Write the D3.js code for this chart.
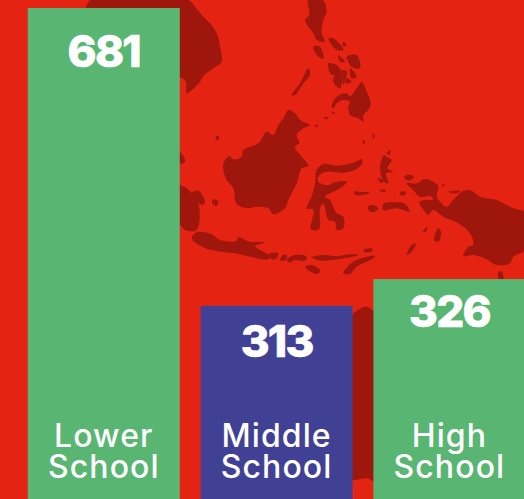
<!DOCTYPE html>
<head>
  <meta charset="utf-8">
  <title>School counts</title>
  <script src="https://cdn.jsdelivr.net/npm/d3@7"></script>
</head>

<style>
  html, body {
    margin: 0;
    padding: 0;
    background: #e52313;
    overflow: hidden;
  }

  svg {
    display: block;
  }

  .land {
    fill: #9e160c;
    stroke: none;
  }

  .value {
    font-family: Inter, "Open Sans", sans-serif;
    font-weight: 800;
    font-size: 44px;
    letter-spacing: -1.8px;
    stroke: white;
    stroke-width: 0.6px;
    fill: white;
    text-anchor: middle;
  }

  .label {
    font-family: Inter, "Open Sans", sans-serif;
    font-weight: 500;
    font-size: 32px;
    letter-spacing: 1.1px;
    fill: white;
    text-anchor: middle;
  }
</style>

<body>
  <svg id='svg-chart'></svg>
</body>

<script>

var categories = [['Lower', 'School'], ['Middle', 'School'], ['High', 'School']];
var values = [681, 313, 326];
// bar lengths as drawn: the middle bar is shorter than its printed number says
var drawn_values = [681, 291, 326];
var bar_colours = ['#59b572', '#404194', '#59b572'];

// background map, traced in map units
var sumatra = [[-100,520],[0,555],[20,565],[55,610],[50,690],[15,690],[0,675],[-100,640]];
var sumatra_n = [[-30,440],[0,455],[15,485],[-30,490]];
var indochina = [[-270,0],[25,0],[45,20],[70,50],[90,70],[110,100],[122,150],[125,185],[100,205],[70,228],[60,245],[30,275],[20,280],[17,245],[0,230],[-60,200],[-270,100]];
var borneo = [[130,490],[148,468],[160,478],[185,470],[190,450],[235,430],[260,395],[280,405],[295,375],[310,355],[325,330],[345,340],[360,360],[390,375],[370,385],[350,405],[358,430],[345,440],[365,470],[385,497],[365,505],[352,545],[335,580],[325,600],[315,625],[280,643],[265,625],[230,620],[205,625],[170,612],[160,565],[140,540],[130,510]];
var sulawesi = [[410,510],[430,492],[470,497],[520,488],[545,478],[547,490],[525,510],[490,518],[440,515],[418,525],[415,545],[440,555],[470,545],[500,545],[480,565],[450,580],[435,590],[450,600],[470,640],[490,650],[490,685],[470,690],[465,665],[445,660],[430,610],[420,625],[417,688],[393,688],[400,630],[380,625],[395,590],[405,550]];
var java = [[35,715],[50,697],[95,703],[120,720],[170,722],[175,712],[210,725],[255,728],[225,738],[240,750],[265,765],[265,778],[210,770],[165,760],[105,752],[65,740]];
var luzon = [[385,0],[428,0],[440,35],[430,60],[425,100],[435,125],[410,120],[400,100],[375,60],[388,45]];
var mindanao = [[455,320],[470,290],[500,280],[510,290],[530,265],[545,245],[562,280],[572,310],[565,330],[550,345],[550,365],[535,355],[510,345],[505,320],[510,305],[490,300],[470,310],[460,325]];
var palawan = [[335,285],[360,250],[385,205],[390,225],[370,250],[345,285]];
var halmahera = [[602,490],[612,465],[620,470],[635,480],[622,505],[638,515],[618,520],[625,550],[612,545],[600,510]];
var new_guinea = [[680,550],[710,550],[735,537],[760,545],[775,560],[770,590],[780,605],[800,620],[820,600],[850,572],[875,572],[900,590],[950,600],[1000,625],[1040,640],[1040,745],[1000,770],[990,790],[950,795],[915,775],[880,765],[850,768],[865,740],[880,735],[870,700],[835,670],[790,650],[760,630],[745,645],[735,635],[718,605],[760,598],[755,590],[720,590],[700,570]];
var australia = [[500,960],[516,945],[525,935],[535,930],[548,922],[560,920],[570,925],[585,935],[700,935],[700,1460],[585,1446],[562,1435],[500,1435]];
var cape_york = [[955,815],[965,815],[970,840],[958,840]];
var small_islands = [
  [[265,762],[295,760],[285,778],[270,775]],
  [[300,780],[310,764],[322,768],[315,782]],
  [[320,780],[345,765],[380,770],[375,782],[345,780],[330,788]],
  [[395,772],[430,765],[470,768],[520,762],[535,765],[470,778],[420,782]],
  [[490,820],[520,785],[585,767],[580,775],[530,800],[510,822]],
  [[375,800],[395,795],[420,812],[410,822]],
  [[35,580],[55,572],[75,605],[65,615]],
  [[95,605],[105,598],[115,605],[108,618]],
  [[107,410],[116,408],[116,420],[109,420]],
  [[400,140],[420,140],[430,175],[415,170]],
  [[445,115],[460,115],[490,150],[470,150]],
  [[490,125],[500,135],[490,140]],
  [[500,170],[530,165],[540,205],[515,200],[505,185]],
  [[445,190],[470,195],[480,210],[455,225]],
  [[475,165],[495,185],[480,185]],
  [[470,215],[485,210],[480,265],[460,245]],
  [[490,210],[500,215],[490,255]],
  [[510,205],[530,230],[515,235]],
  [[500,235],[515,245],[497,250]],
  [[430,352],[445,352],[440,358]],
  [[455,335],[465,338],[458,342]],
  [[405,375],[415,375],[408,382]],
  [[578,400],[584,405],[580,418]],
  [[548,420],[555,425],[550,432]],
  [[620,460],[632,450],[628,465]],
  [[592,535],[610,540],[605,550]],
  [[672,530],[695,525],[702,532],[685,542]],
  [[610,612],[650,607],[675,612],[688,635],[650,625],[610,630]],
  [[563,620],[578,615],[595,625],[585,635],[570,635]],
  [[522,575],[540,575],[570,578],[548,585],[525,584]],
  [[598,570],[618,570],[612,577]],
  [[660,577],[678,575],[675,585],[660,585]],
  [[762,720],[775,685],[783,695],[775,725]],
  [[728,695],[742,680],[738,695]],
  [[680,765],[695,735],[708,732],[695,755]],
  [[805,575],[840,572],[830,580]],
  [[550,750],[575,745],[578,752],[555,757]],
  [[785,555],[795,553],[790,560]]
];

var land = [sumatra, sumatra_n, indochina, borneo, sulawesi, java, luzon, mindanao, palawan,
            halmahera, new_guinea, australia, cape_york].concat(small_islands);

var width = 524,
    height = 499,
    value_dy = [59, 51, 48],
    label_y = [447, 478];

var svg = d3.select('#svg-chart')
  .attr('width', width)
  .attr('height', height);

// map
var map_x = d3.scaleLinear().domain([0, 1032]).range([180, 524]);
var map_y = d3.scaleLinear().domain([0, 870]).range([0, 290]);

var land_line = d3.line()
  .x(function(d) { return map_x(d[0]); })
  .y(function(d) { return map_y(d[1]); })
  .curve(d3.curveCatmullRomClosed.alpha(0.5));

svg.selectAll('path.land')
  .data(land)
  .enter()
  .append('path')
  .attr('class', 'land')
  .attr('d', land_line);

// bars
var x = d3.scaleBand()
  .domain(d3.range(categories.length))
  .range([27.8, 525.4])
  .paddingInner(0.1204);

var y = d3.scaleLinear().domain([0, 681]).range([528, 8]);

var bar_g = svg.selectAll('g.bar')
  .data(values)
  .enter()
  .append('g')
  .attr('class', 'bar');

bar_g.append('rect')
  .attr('x', function(_, i) { return x(i); })
  .attr('y', function(_, i) { return y(drawn_values[i]); })
  .attr('width', x.bandwidth())
  .attr('height', function(_, i) { return height - y(drawn_values[i]); })
  .attr('fill', function(_, i) { return bar_colours[i]; });

bar_g.append('text')
  .attr('class', 'value')
  .attr('x', function(_, i) { return x(i) + x.bandwidth() / 2; })
  .attr('y', function(_, i) { return y(drawn_values[i]) + value_dy[i]; })
  .text(function(d) { return d; });

bar_g.each(function(_, i) {
  d3.select(this).selectAll('text.label')
    .data(categories[i])
    .enter()
    .append('text')
    .attr('class', 'label')
    .attr('x', x(i) + x.bandwidth() / 2)
    .attr('y', function(_, j) { return label_y[j]; })
    .text(function(d) { return d; });
});

</script>
